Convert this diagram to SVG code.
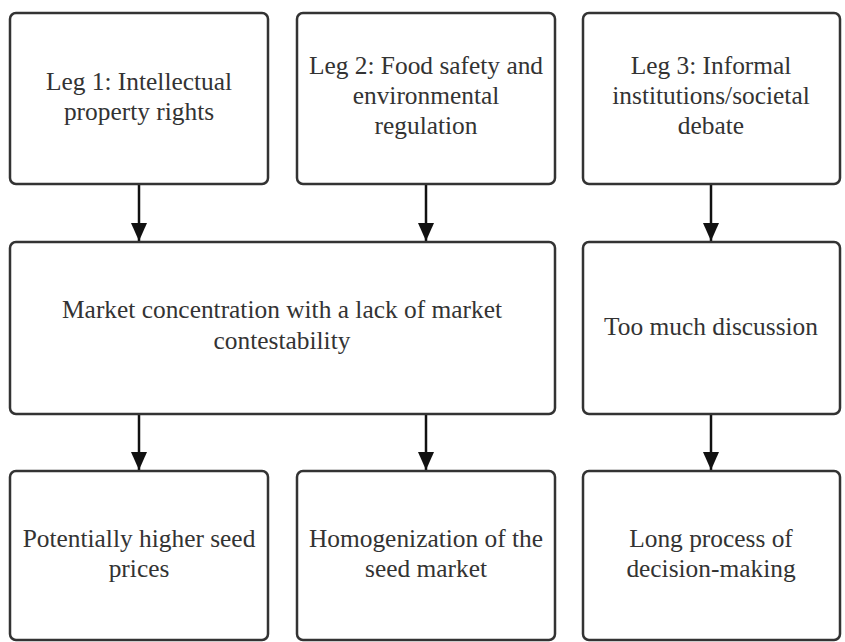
<svg xmlns="http://www.w3.org/2000/svg" width="845" height="642" viewBox="0 0 845 642">
<defs>
<style>
.box{fill:#ffffff;stroke:#333333;stroke-width:2.5}
.lbl{font-family:"Liberation Serif","Times New Roman",serif;font-size:25.4px;fill:#333333;text-anchor:middle}
.edge{stroke:#111111;stroke-width:2.5;fill:none}
</style>
<marker id="arr" viewBox="0 0 18 16" refX="18" refY="8" markerWidth="18" markerHeight="16" markerUnits="userSpaceOnUse" orient="auto">
<path d="M0,0 L18,8 L0,16 Z" fill="#111111"/>
</marker>
</defs>
<rect width="845" height="642" fill="#ffffff"/>
<g id="connectors">
<line class="edge" x1="139" y1="185" x2="139" y2="241" marker-end="url(#arr)"/>
<line class="edge" x1="426" y1="185" x2="426" y2="241" marker-end="url(#arr)"/>
<line class="edge" x1="711" y1="185" x2="711" y2="241" marker-end="url(#arr)"/>
<line class="edge" x1="139" y1="415" x2="139" y2="470" marker-end="url(#arr)"/>
<line class="edge" x1="426" y1="415" x2="426" y2="470" marker-end="url(#arr)"/>
<line class="edge" x1="711" y1="415" x2="711" y2="470" marker-end="url(#arr)"/>
</g>
<g id="leg1">
<rect class="box" x="10" y="13" width="258" height="171" rx="6"/>
<text class="lbl" x="139" y="90">Leg 1: Intellectual</text>
<text class="lbl" x="139" y="120">property rights</text>
</g>
<g id="leg2">
<rect class="box" x="297" y="13" width="258" height="171" rx="6"/>
<text class="lbl" x="426" y="74">Leg 2: Food safety and</text>
<text class="lbl" x="426" y="104">environmental</text>
<text class="lbl" x="426" y="134">regulation</text>
</g>
<g id="leg3">
<rect class="box" x="583" y="13" width="257" height="171" rx="6"/>
<text class="lbl" x="711" y="74">Leg 3: Informal</text>
<text class="lbl" x="711" y="104">institutions/societal</text>
<text class="lbl" x="711" y="134">debate</text>
</g>
<g id="market">
<rect class="box" x="10" y="242" width="545" height="172" rx="6"/>
<text class="lbl" x="282" y="318">Market concentration with a lack of market</text>
<text class="lbl" x="282" y="349">contestability</text>
</g>
<g id="discussion">
<rect class="box" x="583" y="242" width="257" height="172" rx="6"/>
<text class="lbl" x="711" y="335">Too much discussion</text>
</g>
<g id="prices">
<rect class="box" x="10" y="471" width="258" height="169" rx="6"/>
<text class="lbl" x="139" y="547">Potentially higher seed</text>
<text class="lbl" x="139" y="577">prices</text>
</g>
<g id="homog">
<rect class="box" x="297" y="471" width="258" height="169" rx="6"/>
<text class="lbl" x="426" y="547">Homogenization of the</text>
<text class="lbl" x="426" y="577">seed market</text>
</g>
<g id="longprocess">
<rect class="box" x="583" y="471" width="257" height="169" rx="6"/>
<text class="lbl" x="711" y="547">Long process of</text>
<text class="lbl" x="711" y="577">decision-making</text>
</g>
</svg>
